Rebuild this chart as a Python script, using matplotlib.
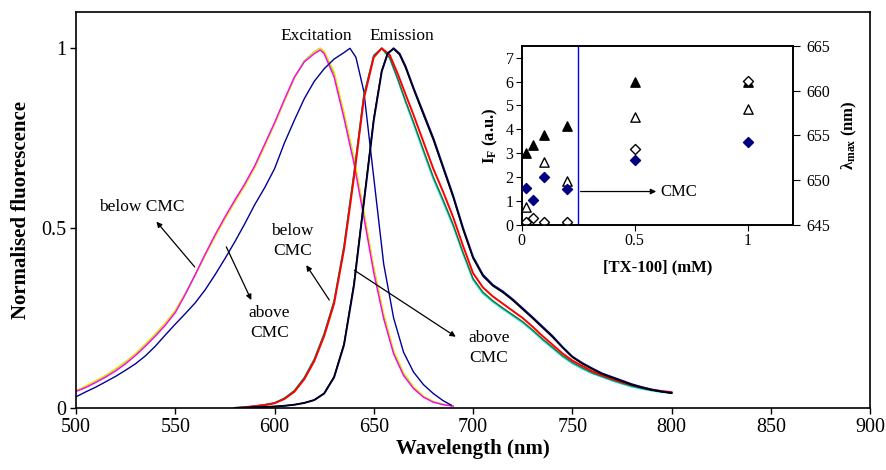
import matplotlib
matplotlib.use("Agg")
import matplotlib.pyplot as plt

plt.rcParams["font.family"] = ["Liberation Serif", "DejaVu Serif"]
plt.rcParams["mathtext.fontset"] = "custom"
plt.rcParams["mathtext.rm"] = "Liberation Serif"
plt.rcParams["mathtext.bf"] = "Liberation Serif:bold"

# ---- main panel: normalised spectra ----
ex_wl = [500, 505, 510, 515, 520, 525, 530, 535, 540, 545, 550, 555, 560, 565, 570,
         575, 580, 585, 590, 595, 600, 605, 610, 615, 620, 623, 625, 630, 635, 640,
         645, 650, 655, 660, 665, 670, 675, 680, 685, 690]
ex_below_green = [0.047, 0.060, 0.075, 0.090, 0.108, 0.128, 0.150, 0.177, 0.205, 0.235,
                  0.270, 0.318, 0.370, 0.425, 0.478, 0.528, 0.575, 0.620, 0.670, 0.730,
                  0.790, 0.855, 0.918, 0.965, 0.990, 1.000, 0.990, 0.930, 0.815, 0.690,
                  0.540, 0.385, 0.255, 0.155, 0.095, 0.057, 0.032, 0.017, 0.010, 0.006]
ex_below_yellow = [0.048, 0.061, 0.076, 0.091, 0.109, 0.129, 0.151, 0.178, 0.206, 0.236,
                   0.271, 0.317, 0.368, 0.423, 0.475, 0.525, 0.572, 0.617, 0.667, 0.727,
                   0.788, 0.853, 0.916, 0.963, 0.990, 1.000, 0.992, 0.935, 0.822, 0.698,
                   0.548, 0.392, 0.262, 0.160, 0.098, 0.059, 0.033, 0.018, 0.010, 0.006]
ex_below_magenta = [0.046, 0.057, 0.071, 0.086, 0.103, 0.123, 0.146, 0.172, 0.200, 0.230,
                    0.265, 0.315, 0.370, 0.427, 0.481, 0.531, 0.578, 0.623, 0.673, 0.733,
                    0.793, 0.858, 0.920, 0.962, 0.985, 0.995, 0.985, 0.920, 0.805, 0.680,
                    0.530, 0.375, 0.248, 0.150, 0.090, 0.054, 0.030, 0.016, 0.009, 0.005]

ex_above_wl = [500, 505, 510, 515, 520, 525, 530, 535, 540, 545, 550, 555, 560, 565,
               570, 575, 580, 585, 590, 595, 600, 605, 610, 615, 620, 625, 630, 635,
               638, 641, 645, 650, 655, 660, 665, 670, 675, 680, 685, 689]
ex_above = [0.031, 0.045, 0.058, 0.073, 0.088, 0.105, 0.123, 0.145, 0.172, 0.203,
            0.233, 0.262, 0.292, 0.328, 0.370, 0.415, 0.462, 0.512, 0.565, 0.612,
            0.665, 0.737, 0.800, 0.860, 0.908, 0.943, 0.970, 0.988, 1.000, 0.975,
            0.880, 0.640, 0.400, 0.250, 0.155, 0.100, 0.065, 0.040, 0.020, 0.008]

em_wl = [580, 585, 590, 595, 600, 605, 610, 615, 620, 625, 630, 635, 640, 645, 650,
         654, 658, 662, 666, 670, 675, 680, 685, 690, 695, 700, 705, 710, 715, 720,
         725, 730, 735, 740, 745, 750, 755, 760, 765, 770, 775, 780, 785, 790, 795, 800]
em_below_red = [0.000, 0.002, 0.005, 0.008, 0.013, 0.025, 0.045, 0.080, 0.130, 0.200,
                0.290, 0.440, 0.640, 0.860, 0.975, 1.000, 0.982, 0.930, 0.872, 0.815,
                0.740, 0.665, 0.600, 0.530, 0.450, 0.375, 0.335, 0.310, 0.290, 0.270,
                0.250, 0.226, 0.200, 0.176, 0.152, 0.132, 0.117, 0.102, 0.091, 0.081,
                0.072, 0.064, 0.057, 0.051, 0.047, 0.044]
em_below_green = [0.000, 0.002, 0.005, 0.009, 0.014, 0.027, 0.048, 0.084, 0.135, 0.206,
                  0.297, 0.450, 0.652, 0.870, 0.980, 1.000, 0.974, 0.916, 0.854, 0.795,
                  0.718, 0.642, 0.578, 0.510, 0.432, 0.360, 0.322, 0.298, 0.278, 0.259,
                  0.240, 0.217, 0.192, 0.169, 0.146, 0.127, 0.112, 0.098, 0.088, 0.078,
                  0.069, 0.061, 0.055, 0.049, 0.045, 0.042]
em_below_cyan = [0.000, 0.002, 0.005, 0.009, 0.014, 0.027, 0.048, 0.084, 0.135, 0.206,
                 0.297, 0.450, 0.650, 0.868, 0.980, 1.000, 0.972, 0.914, 0.850, 0.790,
                 0.712, 0.636, 0.572, 0.505, 0.428, 0.356, 0.318, 0.295, 0.275, 0.256,
                 0.237, 0.214, 0.189, 0.166, 0.143, 0.124, 0.109, 0.096, 0.086, 0.076,
                 0.067, 0.059, 0.053, 0.048, 0.044, 0.041]

em_above_wl = [580, 585, 590, 595, 600, 605, 610, 615, 620, 625, 630, 635, 640, 645,
               650, 654, 657, 660, 663, 666, 670, 675, 680, 685, 690, 695, 700, 705,
               710, 715, 720, 725, 730, 735, 740, 745, 750, 755, 760, 765, 770, 775,
               780, 785, 790, 795, 800]
em_above_navy = [0.000, 0.001, 0.002, 0.003, 0.004, 0.006, 0.009, 0.014, 0.022, 0.040,
                 0.085, 0.175, 0.340, 0.570, 0.800, 0.935, 0.985, 1.000, 0.985, 0.950,
                 0.890, 0.820, 0.750, 0.670, 0.590, 0.500, 0.420, 0.370, 0.342, 0.324,
                 0.302, 0.277, 0.252, 0.226, 0.200, 0.170, 0.143, 0.125, 0.110, 0.096,
                 0.086, 0.076, 0.066, 0.058, 0.051, 0.046, 0.042]
em_above_black = [0.000, 0.001, 0.002, 0.003, 0.004, 0.006, 0.009, 0.014, 0.022, 0.041,
                  0.087, 0.178, 0.345, 0.575, 0.805, 0.938, 0.987, 0.998, 0.982, 0.946,
                  0.886, 0.815, 0.745, 0.665, 0.585, 0.495, 0.416, 0.366, 0.339, 0.321,
                  0.299, 0.274, 0.249, 0.223, 0.197, 0.168, 0.141, 0.123, 0.108, 0.094,
                  0.084, 0.074, 0.064, 0.056, 0.050, 0.045, 0.041]

# ---- inset: intensity and emission maximum vs [TX-100] ----
tx_conc = [0.02, 0.05, 0.1, 0.2, 0.5, 1.0]
if_filled = [3.0, 3.35, 3.75, 4.15, 6.0, 6.0]
if_open_conc = [0.02, 0.1, 0.2, 0.5, 1.0]
if_open = [0.75, 2.65, 1.85, 4.5, 4.85]
lmax_filled = [649.1, 647.8, 650.3, 649.0, 652.2, 654.3]
lmax_open = [645.3, 645.8, 645.3, 645.3, 653.5, 661.1]
cmc_conc = 0.25

fig = plt.figure(figsize=(8.86, 4.70), dpi=100)
ax = fig.add_axes([0.0858, 0.132, 0.8962, 0.8418])

ax.plot(ex_wl, ex_below_green, color="#33cc33", lw=1.0)
ax.plot(ex_wl, ex_below_yellow, color="#e6e600", lw=1.0)
ax.plot(ex_wl, ex_below_magenta, color="#ff00ff", lw=1.0)
ax.plot(ex_above_wl, ex_above, color="#000099", lw=1.0)

ax.plot(em_wl, em_below_cyan, color="#00e5e5", lw=1.2)
ax.plot(em_wl, em_below_green, color="#2e6b2e", lw=1.0)
ax.plot(em_wl, em_below_red, color="#ff0000", lw=1.4)
ax.plot(em_above_wl, em_above_navy, color="#000080", lw=1.4)
ax.plot(em_above_wl, em_above_black, color="#000000", lw=1.0)

ax.set_xlim(500, 900)
ax.set_ylim(0, 1.1)
ax.set_xticks(range(500, 901, 50))
ax.set_yticks([0, 0.5, 1])
ax.set_yticklabels(["0", "0.5", "1"])
ax.tick_params(direction="out", length=4, width=1, labelsize=14.5, pad=3)
for s in ax.spines.values():
    s.set_linewidth(1.2)
ax.set_xlabel("Wavelength (nm)", fontsize=15, fontweight="bold", labelpad=2)
ax.set_ylabel("Normalised fluorescence", fontsize=15, fontweight="bold", labelpad=7)

fs = 12.5
arr = dict(arrowstyle="-|>", color="black", lw=0.9, mutation_scale=8,
           shrinkA=0, shrinkB=0)
ax.text(621, 1.012, "Excitation", ha="center", va="bottom", fontsize=fs)
ax.text(664, 1.012, "Emission", ha="center", va="bottom", fontsize=fs)

ax.annotate("", xy=(540.5, 0.518), xytext=(559.8, 0.392), arrowprops=arr)
ax.text(533, 0.558, "below CMC", ha="center", va="center", fontsize=fs)
ax.annotate("", xy=(588.3, 0.300), xytext=(575.7, 0.448), arrowprops=arr)
ax.text(597.5, 0.236, "above\nCMC", ha="center", va="center", fontsize=fs,
        linespacing=1.35)
ax.annotate("", xy=(616, 0.397), xytext=(627.6, 0.300), arrowprops=arr)
ax.text(609, 0.464, "below\nCMC", ha="center", va="center", fontsize=fs,
        linespacing=1.35)
ax.annotate("", xy=(691.3, 0.198), xytext=(640.2, 0.383), arrowprops=arr)
ax.text(708, 0.167, "above\nCMC", ha="center", va="center", fontsize=fs,
        linespacing=1.35)

# inset
ins = fig.add_axes([0.589, 0.5213, 0.3058, 0.3815])
ins.set_xlim(0, 1.2)
ins.set_ylim(0, 7.5)
ins.axvline(cmc_conc, color="#0000ff", lw=1.0)
ins.scatter(tx_conc, if_filled, marker="^", s=45, color="black", zorder=3)
ins.scatter(if_open_conc, if_open, marker="^", s=45, facecolor="white",
            edgecolor="black", linewidth=1.0, zorder=3)
ins.set_xticks([0, 0.5, 1])
ins.set_xticklabels(["0", "0.5", "1"])
ins.set_yticks(range(0, 8))
ins.tick_params(direction="out", length=4, labelsize=11.5, pad=2)
ins.set_xlabel("[TX-100] (mM)", fontsize=12, fontweight="bold", labelpad=7)
ins.set_ylabel(r"$\mathbf{I_F}$ (a.u.)", fontsize=12, fontweight="bold", labelpad=4)
ins.annotate("", xy=(0.595, 1.4), xytext=(0.26, 1.4),
             arrowprops=dict(arrowstyle="-|>", color="black", lw=0.9,
                             mutation_scale=8, shrinkA=0, shrinkB=0))
ins.text(0.615, 1.4, "CMC", ha="left", va="center", fontsize=12)

ins2 = ins.twinx()
ins2.set_ylim(645, 665)
ins2.set_yticks([645, 650, 655, 660, 665])
ins2.scatter(tx_conc, lmax_open, marker="D", s=26, facecolor="white",
             edgecolor="black", linewidth=1.0, zorder=2)
ins2.scatter(tx_conc, lmax_filled, marker="D", s=26, color="#000080", zorder=3)
ins2.tick_params(direction="out", length=5, labelsize=11.5, pad=5)
ins2.set_ylabel(r"$\mathbf{\lambda_{max}}$ (nm)", fontsize=12, fontweight="bold",
                labelpad=7)
for a in (ins, ins2):
    for s in a.spines.values():
        s.set_linewidth(1.2)

fig.savefig("out.png", dpi=100)
